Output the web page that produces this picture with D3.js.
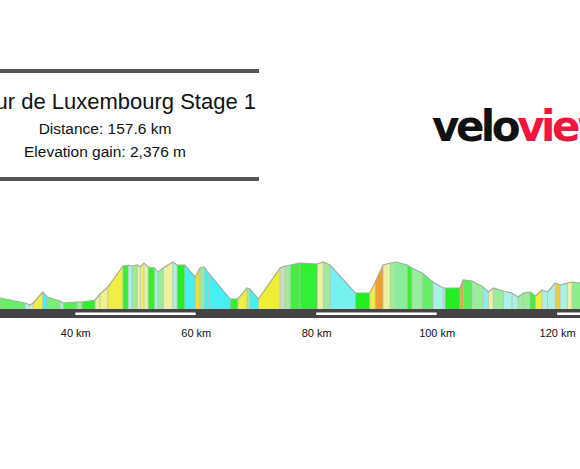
<!DOCTYPE html><html><head><meta charset="utf-8"><script src="https://cdn.jsdelivr.net/npm/d3@7"></script>
<style>body{margin:0;background:#fff}</style></head><body><svg id="c" width="580" height="469"></svg>
<script>
const km=[27.5,31.65,32.5,33.0,34.6,35.3,37.5,38.0,40.3,41.1,43.3,44.1,45.4,47.9,48.8,49.4,50.3,50.8,51.4,52.1,53.2,53.7,54.6,56.2,56.9,58.2,59.9,60.7,61.4,62.1,65.7,67.0,68.5,69.0,70.4,74.0,74.8,75.7,77.3,80.2,81.2,82.3,86.5,88.9,89.8,91.1,92.3,93.3,95.1,95.9,97.6,99.4,101.1,101.4,103.9,104.4,105.9,107.7,108.6,109.4,111.1,112.5,113.5,114.4,115.5,116.4,117.5,118.4,119.7,120.5,121.7,122.5,123.8];
const elev=[255,230,220,230,285,260,240,230,235,235,245,275,310,415,420,415,420,410,430,410,405,385,405,435,420,420,360,405,410,380,250,250,305,300,250,405,415,420,430,425,435,420,280,280,335,420,430,435,420,405,380,335,305,305,305,345,340,310,285,305,290,280,260,280,285,265,295,285,330,320,330,335,330];
const segColors=["#66ee66","#aaf2e6","#e8f2a0","#eeee44","#44f0f0","#77ee77","#aaf2e6","#55ee55","#99ee99","#33ee33","#e8f2a0","#eef088","#eeee44","#33ee33","#aaf2e6","#99ee99","#e8f2a0","#eeee77","#e8f2a0","#33ee33","#aaf2e6","#99ee99","#e8f2a0","#aaf2e6","#22ee22","#44f0f0","#eedd33","#99ee99","#44f0f0","#44f0f0","#33ee33","#eeee44","#99ee99","#44f0f0","#eeee33","#ccddbb","#99ee99","#44ee44","#33ee33","#e8f2a0","#99ee99","#77f0f0","#22ee22","#eeee44","#f0a030","#e8f2a0","#99ee99","#88ee99","#33ee33","#99ee99","#66ee66","#aaf2e6","#aaf2e6","#22ee22","#f0a030","#55ee55","#99ee99","#88f0f0","#e8f2a0","#99ee99","#aaf2e6","#aaf2e6","#99ee99","#99ee99","#44ee44","#eeee44","#aaf2e6","#aaf2e6","#eecc33","#aaf2e6","#e8f2a0","#88ee88"];
const tickKm=[40,60,80,100,120];
const stripeKm=[[40,60],[80,100],[120,140]];
const svg=d3.select("#c");
const x=d3.scaleLinear().domain([27.5,123.8]).range([0,580]);
const y=d3.scaleLinear().domain([200,440]).range([309,261]);
for(let i=0;i<km.length-1;i++){
  svg.append("path").attr("d",`M${x(km[i])},309L${x(km[i])},${y(elev[i])}L${x(km[i+1])},${y(elev[i+1])}L${x(km[i+1])},309Z`).attr("fill",segColors[i]);
  svg.append("line").attr("x1",x(km[i])).attr("x2",x(km[i])).attr("y1",y(elev[i])).attr("y2",309).attr("stroke","#bbb").attr("stroke-width",0.8);
}
svg.append("path").datum(km.map((k,i)=>[k,elev[i]])).attr("d",d3.line().x(d=>x(d[0])).y(d=>y(d[1]))).attr("fill","none").attr("stroke","#aaa").attr("stroke-width",1.2);
svg.append("rect").attr("x",0).attr("y",309).attr("width",580).attr("height",9).attr("fill","#444");
stripeKm.forEach(s=>svg.append("rect").attr("x",x(s[0])).attr("y",312.5).attr("width",x(s[1])-x(s[0])).attr("height",2.5).attr("fill","#fff"));
const ax=svg.append("g").attr("transform","translate(0,318)").call(d3.axisBottom(x).tickValues(tickKm).tickSize(0).tickPadding(11).tickFormat(d=>d+" km"));
ax.select(".domain").remove();
ax.selectAll("text").attr("font-family","Liberation Sans, Arial").attr("font-size",11).attr("fill","#111");
svg.append("rect").attr("x",0).attr("y",69).attr("width",259).attr("height",4).attr("fill","#555");
svg.append("rect").attr("x",0).attr("y",177).attr("width",259).attr("height",4).attr("fill","#555");
const t=svg.append("g").attr("font-family","Liberation Sans, Arial").attr("fill","#111");
t.append("text").attr("x",256).attr("y",109).attr("text-anchor","end").attr("font-size",22).text("Tour de Luxembourg Stage 1");
t.append("text").attr("x",105).attr("y",134).attr("text-anchor","middle").attr("font-size",15.5).text("Distance: 157.6 km");
t.append("text").attr("x",105).attr("y",157).attr("text-anchor","middle").attr("font-size",15.5).text("Elevation gain: 2,376 m");
const lg=svg.append("text").attr("x",432).attr("y",141).attr("font-family","DejaVu Sans").attr("font-weight","bold").attr("font-size",42).attr("letter-spacing",-3.5);
lg.append("tspan").attr("fill","#111").text("velo");
lg.append("tspan").attr("fill","#f5143c").text("view");
</script></body></html>
